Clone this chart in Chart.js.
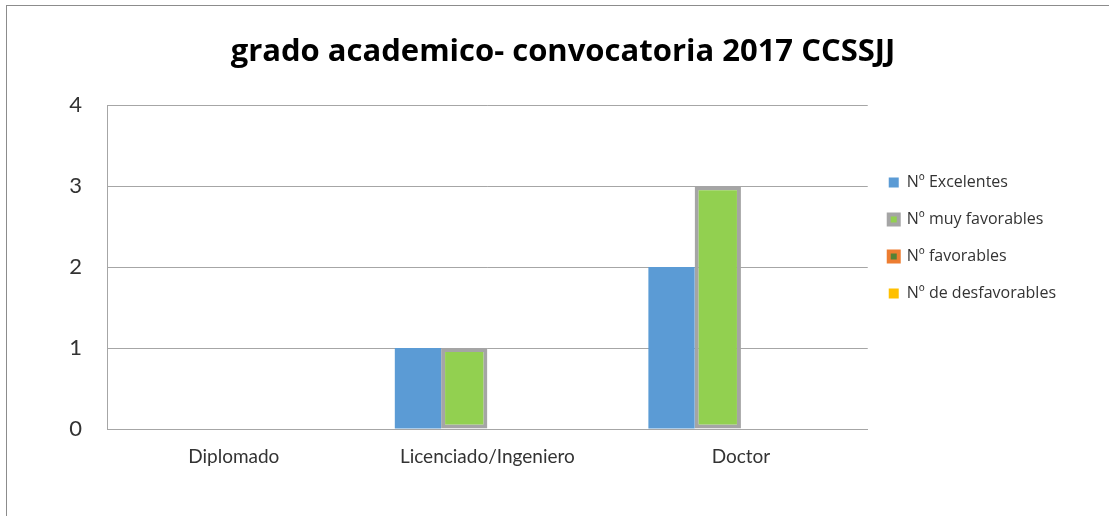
<!DOCTYPE html>
<html>
<head>
<meta charset="utf-8">
<script src="https://cdn.jsdelivr.net/npm/chart.js@4/dist/chart.umd.min.js"></script>
<style>
  html, body { margin: 0; padding: 0; background: #fff; }
  #wrap { position: relative; width: 1109px; height: 516px; }
  #frame {
    position: absolute; left: 6px; top: 5px; width: 1103px; height: 511px;
    border-top: 1px solid #8c8c8c; border-left: 1px solid #8c8c8c;
    box-sizing: border-box; pointer-events: none;
  }
</style>
</head>
<body>
<div id="wrap">
  <canvas id="chart" width="1109" height="516"></canvas>
  <div id="frame"></div>
</div>
<script>
// Chart data
const categories = ['Diplomado', 'Licenciado/Ingeniero', 'Doctor'];
const seriesNames = ['Nº Excelentes', 'Nº muy favorables', 'Nº favorables', 'Nº de desfavorables'];
const excelentes = [0, 1, 2];
const muyFavorables = [0, 1, 3];
const favorables = [0, 0, 0];
const desfavorables = [0, 0, 0];
const yTicks = [0, 1, 2, 3, 4];

const AXIS_FONT = 'Lato, "Open Sans", "DejaVu Sans", sans-serif';
const TEXT_FONT = '"Open Sans", Lato, "DejaVu Sans", sans-serif';
const gridColor = '#a6a6a6';
const textColor = '#333333';

const ctx = document.getElementById('chart').getContext('2d');

new Chart(ctx, {
  type: 'bar',
  data: {
    labels: categories,
    datasets: [
      {
        label: seriesNames[0],
        data: excelentes,
        backgroundColor: '#5b9bd5',
        borderWidth: 0
      },
      {
        label: seriesNames[1],
        data: muyFavorables,
        backgroundColor: '#92d050',
        borderColor: '#a5a5a5',
        borderWidth: 4,
        borderSkipped: false
      },
      {
        label: seriesNames[2],
        data: favorables,
        backgroundColor: '#548235',
        borderColor: '#ed7d31',
        borderWidth: 4,
        borderSkipped: false
      },
      {
        label: seriesNames[3],
        data: desfavorables,
        backgroundColor: '#ffc000',
        borderWidth: 0
      }
    ]
  },
  options: {
    responsive: false,
    animation: false,
    events: [],
    layout: {
      // left/right padding also centres the title where the original has it
      padding: { left: 60, right: 43, top: 0, bottom: 40 }
    },
    datasets: {
      bar: {
        categoryPercentage: 0.73,
        barPercentage: 1
      }
    },
    plugins: {
      title: {
        display: true,
        text: 'grado academico- convocatoria 2017 CCSSJJ',
        color: '#000',
        font: { family: TEXT_FONT, size: 31, weight: 'bold' },
        padding: { top: 34, bottom: 34 }
      },
      legend: {
        position: 'right',
        align: 'center',
        labels: {
          color: textColor,
          font: { family: TEXT_FONT, size: 16 },
          boxWidth: 10,
          boxHeight: 10,
          padding: 21
        }
      },
      tooltip: { enabled: false }
    },
    scales: {
      x: {
        grid: { display: false, drawTicks: false },
        border: { display: true, color: gridColor, width: 1 },
        ticks: {
          color: textColor,
          font: { family: AXIS_FONT, size: 19 },
          padding: 16
        },
        afterFit: (scale) => { scale.height = 47; }
      },
      y: {
        min: 0,
        max: 4,
        grid: { color: gridColor, drawTicks: false },
        border: { display: true, color: gridColor, width: 1 },
        afterBuildTicks: (scale) => { scale.ticks = yTicks.map(v => ({ value: v })); },
        ticks: {
          color: textColor,
          font: { family: AXIS_FONT, size: 22 },
          padding: 25
        },
        afterFit: (scale) => { scale.width = 47; }
      }
    }
  }
});
</script>
</body>
</html>
